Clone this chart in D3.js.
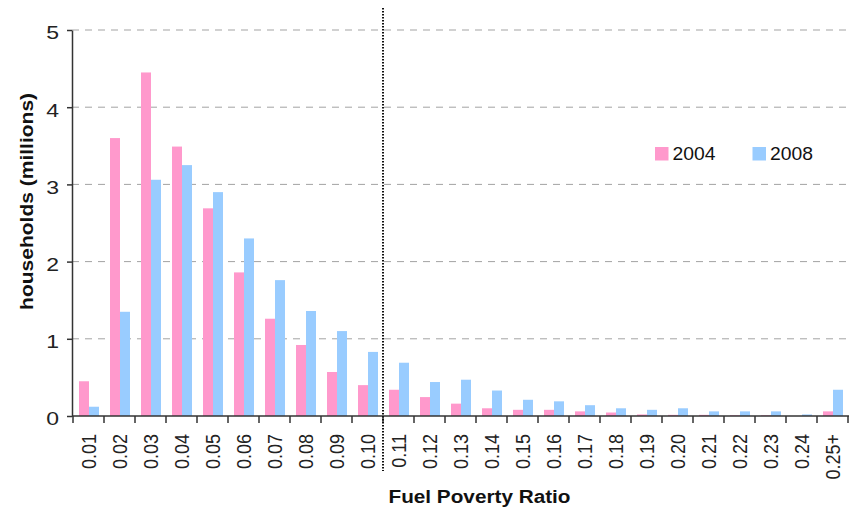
<!DOCTYPE html>
<html>
<head>
<meta charset="utf-8">
<script src="https://cdn.jsdelivr.net/npm/d3@7"></script>
<style>
  html, body { margin: 0; padding: 0; background: #fff; }
  svg { display: block; font-family: "Liberation Sans", Arial, sans-serif; }
</style>
</head>
<body>
<svg id="chart" width="862" height="508"></svg>
<script>
// Households by fuel poverty ratio band, millions
const categories = ["0.01","0.02","0.03","0.04","0.05","0.06","0.07","0.08","0.09","0.10",
  "0.11","0.12","0.13","0.14","0.15","0.16","0.17","0.18","0.19","0.20",
  "0.21","0.22","0.23","0.24","0.25+"];
const values2004 = [0.45,3.60,4.45,3.49,2.69,1.86,1.26,0.92,0.57,0.40,
  0.34,0.245,0.16,0.10,0.08,0.08,0.06,0.045,0.02,0.015,
  0.015,0.01,0.01,0.0,0.06];
const values2008 = [0.12,1.35,3.06,3.25,2.90,2.30,1.76,1.36,1.10,0.83,
  0.69,0.44,0.47,0.33,0.21,0.19,0.14,0.10,0.08,0.10,
  0.06,0.06,0.06,0.02,0.34];
const seriesNames = ["2004","2008"];
const yTicks = [0,1,2,3,4,5];
const thresholdCategory = "0.11";

const colors = { "2004": "#FF99CC", "2008": "#99CCFF" };

const svg = d3.select("#chart");
const plotLeft = 73, plotRight = 848, plotTop = 30, plotBottom = 416;

const x = d3.scaleBand().domain(categories).range([plotLeft, plotRight]).padding(0);
const xi = d3.scaleLinear().domain([0, categories.length]).range([plotLeft, plotRight]);
const xs = d3.scaleBand().domain(seriesNames).range([6, 26]).padding(0);
const y = d3.scaleLinear().domain([0, 5]).range([plotBottom, plotTop]);

const rows = categories.map((c, i) => ({ cat: c, "2004": values2004[i], "2008": values2008[i] }));

// dashed horizontal gridlines
svg.append("g").selectAll("line")
  .data(yTicks.filter(t => t > 0))
  .join("line")
  .attr("x1", plotLeft - 1).attr("x2", plotRight)
  .attr("y1", d => y(d)).attr("y2", d => y(d))
  .attr("stroke", "#a3a3a3").attr("stroke-width", 1)
  .attr("stroke-dasharray", "7,6");

// bars
svg.append("g").selectAll("g")
  .data(rows)
  .join("g")
  .attr("transform", d => `translate(${x(d.cat)},0)`)
  .selectAll("rect")
  .data(d => seriesNames.map(s => ({ s, v: d[s] })))
  .join("rect")
  .attr("x", d => xs(d.s))
  .attr("width", xs.bandwidth())
  .attr("y", d => y(d.v))
  .attr("height", d => y(0) - y(d.v))
  .attr("fill", d => colors[d.s]);

// y axis
const yAxis = svg.append("g")
  .attr("transform", `translate(${plotLeft - 1},0)`)
  .call(d3.axisLeft(y).tickValues(yTicks).tickFormat(d3.format("d")).tickSize(5).tickSizeOuter(0));
yAxis.select(".domain").attr("stroke", "#333").attr("stroke-width", 1.5);
yAxis.selectAll(".tick line").attr("stroke", "#333").attr("stroke-width", 1.5);
yAxis.selectAll(".tick text")
  .attr("x", 0).attr("dy", "0.5em")
  .attr("transform", "translate(-13,0) scale(1.3,1)")
  .attr("font-size", "17.7px").attr("fill", "#222")
  .attr("font-family", "'Liberation Sans', Arial, sans-serif");

// x axis line and boundary ticks
svg.append("line")
  .attr("x1", plotLeft - 1).attr("x2", plotRight + 1)
  .attr("y1", y(0)).attr("y2", y(0))
  .attr("stroke", "#333").attr("stroke-width", 1.5);
svg.append("g").selectAll("line")
  .data(d3.range(categories.length + 1))
  .join("line")
  .attr("x1", d => xi(d)).attr("x2", d => xi(d))
  .attr("y1", y(0)).attr("y2", y(0) + 7)
  .attr("stroke", "#333").attr("stroke-width", 1.5);

// rotated category labels
svg.append("g").selectAll("text")
  .data(categories)
  .join("text")
  .attr("transform", d => `translate(${x(d) + x.bandwidth() / 2},434) rotate(-90) scale(1,1.16)`)
  .attr("text-anchor", "end")
  .attr("y", "0.36em")
  .attr("font-size", "18px")
  .attr("fill", "#222")
  .text(d => d);

// dotted divider at the 0.10 / 0.11 boundary
svg.append("line")
  .attr("x1", x(thresholdCategory)).attr("x2", x(thresholdCategory))
  .attr("y1", 8).attr("y2", 471)
  .attr("stroke", "#111").attr("stroke-width", 2)
  .attr("stroke-dasharray", "1.5,1.5");

// axis titles
svg.append("text")
  .attr("transform", "translate(33,201.4) rotate(-90)")
  .attr("text-anchor", "middle")
  .attr("font-size", "18px").attr("font-weight", "bold").attr("fill", "#111")
  .attr("textLength", 217).attr("lengthAdjust", "spacingAndGlyphs")
  .text("households (millions)");

svg.append("text")
  .attr("x", 479.5).attr("y", 503)
  .attr("text-anchor", "middle")
  .attr("font-size", "17.6px").attr("font-weight", "bold").attr("fill", "#111")
  .attr("textLength", 182).attr("lengthAdjust", "spacingAndGlyphs")
  .text("Fuel Poverty Ratio");

// legend
const legendX = [655, 752.5];
const legend = svg.append("g").selectAll("g")
  .data(seriesNames)
  .join("g")
  .attr("transform", (d, i) => `translate(${legendX[i]},147)`);
legend.append("rect")
  .attr("width", 13.5).attr("height", 13.5)
  .attr("fill", d => colors[d]);
legend.append("text")
  .attr("x", 17.5).attr("y", 12.6)
  .attr("font-size", "17.7px").attr("fill", "#111")
  .attr("textLength", 43).attr("lengthAdjust", "spacingAndGlyphs")
  .text(d => d);
</script>
</body>
</html>
